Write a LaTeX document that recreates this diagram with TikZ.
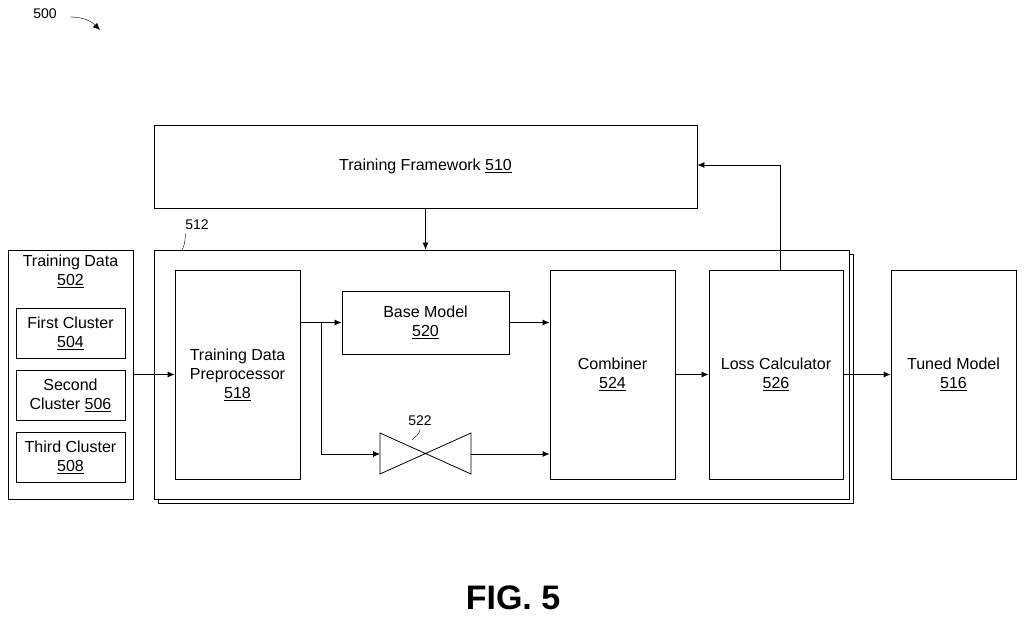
\documentclass[tikz,border=0pt]{standalone}
\usepackage{fontspec}
\setmainfont{Liberation Sans}
\usetikzlibrary{positioning}
\usetikzlibrary{calc}
\usetikzlibrary{arrows.meta}

\begin{document}
\begin{tikzpicture}
    [x=1pt, y=-1pt,
    block/.style={draw, thick, fill=white, inner sep=0pt, align=center, font=\fontsize{16}{19}\selectfont},
    conn/.style={-{Latex[length=7pt,width=6pt]}, thick},
    refno/.style={font=\fontsize{14}{16}\selectfont}]
     \useasboundingbox (0,0) rectangle (1024,618);
     %\draw[step=100pt,gray,very thin] (0,0) grid (1024,618);
     \node[block, minimum width=543pt, minimum height=83pt] (frame) at (425.5, 166.5) {Training Framework \underline{510}};
     \node[block, minimum width=695pt, minimum height=249pt] (shadow) at (505.5, 378.5) {};
     \node[block, minimum width=695pt, minimum height=249pt] (outer) at (501.5, 374.5) {};
     \node[block, minimum width=125pt, minimum height=249pt] (data) at (70.5, 374.5) {};
     \node[block, draw=none, fill=none] (datat) at (70.5, 271) {Training Data\\\underline{502}};
     \node[block, minimum width=109pt, minimum height=50pt] (c1) at (70.5, 333) {First Cluster\\\underline{504}};
     \node[block, minimum width=109pt, minimum height=50pt] (c2) at (70.5, 395) {Second\\Cluster \underline{506}};
     \node[block, minimum width=109pt, minimum height=50pt] (c3) at (70.5, 457) {Third Cluster\\\underline{508}};
     \node[block, minimum width=125pt, minimum height=209pt] (prep) at (237.5, 374.5) {Training Data\\Preprocessor\\\underline{518}};
     \node[block, minimum width=167pt, minimum height=63pt] (base) at (425.5, 322.5) {Base Model\\\underline{520}};
     \node[block, minimum width=125pt, minimum height=209pt] (comb) at (612.5, 374.5) {Combiner\\\underline{524}};
     \node[block, minimum width=134pt, minimum height=209pt] (loss) at (776, 374.5) {Loss Calculator\\\underline{526}};
     \node[block, minimum width=125pt, minimum height=209pt] (tuned) at (953.5, 374.5) {Tuned Model\\\underline{516}};
     % bow-tie 522
     \coordinate (bowl) at (380, 454);
     \coordinate (bowr) at (471, 454);
     \draw[thick] (380,433) -- (471,474) -- (471,433) -- (380,474) -- cycle;
     \coordinate (split) at (321, 322);
     \coordinate (lossup) at (780, 165);
     \draw[conn] (data.east |- prep) -- (prep);
     \draw[conn] (prep.east |- base) -- (base);
     \draw[conn] (split) |- (bowl);
     \draw[conn] (base) -- (comb.west |- base);
     \draw[conn] (bowr) -- (comb.west |- bowr);
     \draw[conn] (comb) -- (loss);
     \draw[conn] (loss.east) -- (tuned);
     \draw[conn] (loss.north -| lossup) -- (lossup) -- (frame.east |- lossup);
     \draw[conn] (frame) -- (outer.north -| frame);
     % reference numbers
     \node[refno] (n512) at (197, 225) {512};
     \draw (n512.south west) ++(4,0) to[out=-100, in=60] (182, 250);
     \node[refno] (n522) at (420, 421) {522};
     \draw (n522.south) to[out=-100, in=45] (412, 440);
     \node[refno] (n500) at (45, 14) {500};
     \draw[-{Latex[length=7pt,width=6pt]}] (70, 17) to[out=0, in=135] (100, 30);
     \node[font=\bfseries\fontsize{34}{38}\selectfont] (fig) at (513, 598) {FIG. 5};
\end{tikzpicture}
\end{document}
